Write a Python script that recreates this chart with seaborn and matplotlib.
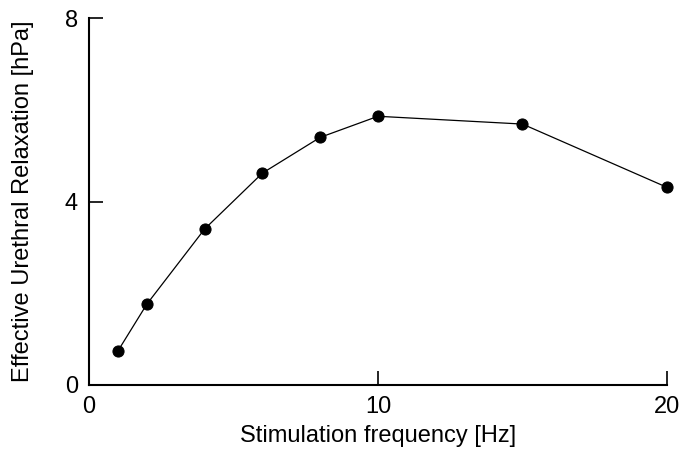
import matplotlib
matplotlib.use('Agg')
import matplotlib.pyplot as plt
import seaborn as sns
import pandas as pd

frequency = [1, 2, 4, 6, 8, 10, 15, 20]
relaxation = [0.74, 1.76, 3.40, 4.62, 5.40, 5.86, 5.69, 4.31]

df = pd.DataFrame({'freq': frequency, 'relax': relaxation})

sns.set_style('ticks', {'text.color': 'black', 'axes.labelcolor': 'black',
                        'xtick.color': 'black', 'ytick.color': 'black'})
plt.rcParams['font.family'] = ['Liberation Sans', 'DejaVu Sans']

fig, ax = plt.subplots(figsize=(6.82, 4.66), dpi=100)
plt.subplots_adjust(left=0.1305, right=0.978, bottom=0.174, top=0.961)

sns.lineplot(data=df, x='freq', y='relax', ax=ax, color='black', linewidth=0.9,
             marker='o', markersize=8, markeredgecolor='black', markerfacecolor='black',
             clip_on=False)

ax.set_xlim(0, 20)
ax.set_ylim(0, 8)
ax.set_xticks([0, 10, 20])
ax.set_yticks([0, 4, 8])
ax.tick_params(direction='in', length=10, width=1.2, labelsize=17, pad=8)
for s in ['top', 'right']:
    ax.spines[s].set_visible(False)
for s in ['left', 'bottom']:
    ax.spines[s].set_linewidth(1.5)
    ax.spines[s].set_color('black')

ax.set_xlabel('Stimulation frequency [Hz]', fontsize=17, labelpad=5)
ax.set_ylabel('Effective Urethral Relaxation [hPa]', fontsize=17, labelpad=22)

fig.savefig('out.png', dpi=100)
